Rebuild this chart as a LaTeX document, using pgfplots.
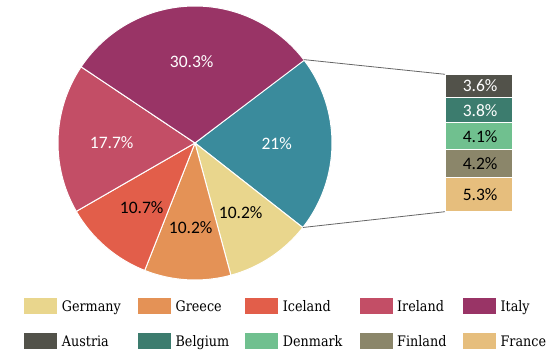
\documentclass[border=0pt]{standalone}
\usepackage{pgfplots}
\usepackage{pgfplotstable}
\pgfplotsset{compat=1.18}
\usepackage{fontspec}
\setmainfont{Carlito}
\newfontfamily\legfont[FakeStretch=0.88]{DejaVu Serif}

\definecolor{cOther}{RGB}{58,139,156}
\definecolor{cGermany}{RGB}{233,214,141}
\definecolor{cGreece}{RGB}{228,146,86}
\definecolor{cIceland}{RGB}{226,94,74}
\definecolor{cIreland}{RGB}{195,78,102}
\definecolor{cItaly}{RGB}{153,52,102}
\definecolor{cAustria}{RGB}{82,82,74}
\definecolor{cBelgium}{RGB}{60,124,110}
\definecolor{cDenmark}{RGB}{112,192,143}
\definecolor{cFinland}{RGB}{139,134,106}
\definecolor{cFrance}{RGB}{230,190,125}

% pie: clockwise from 37.5 deg
\pgfplotstableread{
name value color
Other 21.0 cOther
Germany 10.2 cGermany
Greece 10.2 cGreece
Iceland 10.7 cIceland
Ireland 17.7 cIreland
Italy 30.3 cItaly
}\piedata

% build the sector commands from the table
\def\piecmds{}
\def\cum{0}
\pgfplotsforeachungrouped \i in {0,...,5}{%
  \pgfplotstablegetelem{\i}{value}\of\piedata \let\pv\pgfplotsretval
  \pgfplotstablegetelem{\i}{color}\of\piedata \let\pc\pgfplotsretval
  \pgfmathsetmacro\sa{37.5-3.6*\cum}%
  \pgfmathsetmacro\ea{\sa-3.6*\pv}%
  \xdef\piecmds{\unexpanded\expandafter{\piecmds}\noexpand\fill[\pc, draw=white, line width=1pt] (axis cs:195,216) -- ++(\sa:137pt) arc[start angle=\sa, end angle=\ea, radius=137pt] -- cycle;}%
  \pgfmathsetmacro\cum{\cum+\pv}%
}

\begin{document}
\begin{tikzpicture}
\begin{axis}[
  width=553pt, height=359pt, scale only axis,
  xmin=0, xmax=553, ymin=0, ymax=359,
  hide axis, clip=false,
  legend columns=5,
  legend image code/.code={\path[#1] (0pt,-8pt) rectangle (33pt,8pt);},
  legend style={at={(0.0434,0.1708)}, anchor=north west, draw=none, fill=none,
    inner sep=0pt, column sep=0pt, row sep=17.8pt,
    nodes={inner sep=0pt, anchor=west, text height=14pt, text depth=3.2pt,
      font=\legfont\fontsize{14.5}{16}\selectfont}},
]
\path (axis cs:0,0) rectangle (axis cs:553,359);
\piecmds
\addplot[black!60, line width=0.8pt, forget plot] coordinates {(303.7,299.4) (445,284.7)};
\addplot[black!60, line width=0.8pt, forget plot] coordinates {(302.8,131.5) (445,147.3)};

\node[white, font=\fontsize{17.5}{20}\selectfont] at (axis cs:191.7,297.3) {30.3\%};
\node[white, font=\fontsize{17.5}{20}\selectfont] at (axis cs:276.7,215) {21\%};
\node[white, font=\fontsize{17.5}{20}\selectfont] at (axis cs:111.7,216.3) {17.7\%};
\node[black, font=\fontsize{17.5}{20}\selectfont] at (axis cs:141.7,151) {10.7\%};
\node[black, font=\fontsize{17.5}{20}\selectfont] at (axis cs:190.7,131.3) {10.2\%};
\node[black, font=\fontsize{17.5}{20}\selectfont] at (axis cs:240.7,146.7) {10.2\%};

\addlegendimage{fill=cGermany, draw=none}
\addlegendentry{\makebox[80.7pt][l]{\hspace{4.7pt}Germany}}
\addlegendimage{fill=cGreece, draw=none}
\addlegendentry{\makebox[74.3pt][l]{\hspace{4.7pt}Greece}}
\addlegendimage{fill=cIceland, draw=none}
\addlegendentry{\makebox[81.3pt][l]{\hspace{4.7pt}Iceland}}
\addlegendimage{fill=cIreland, draw=none}
\addlegendentry{\makebox[70.4pt][l]{\hspace{4.7pt}Ireland}}
\addlegendimage{fill=cItaly, draw=none}
\addlegendentry{\makebox[50pt][l]{\hspace{4.7pt}Italy}}
\addlegendimage{fill=cAustria, draw=none}
\addlegendentry{\makebox[80.7pt][l]{\hspace{4.7pt}Austria}}
\addlegendimage{fill=cBelgium, draw=none}
\addlegendentry{\makebox[74.3pt][l]{\hspace{4.7pt}Belgium}}
\addlegendimage{fill=cDenmark, draw=none}
\addlegendentry{\makebox[81.3pt][l]{\hspace{4.7pt}Denmark}}
\addlegendimage{fill=cFinland, draw=none}
\addlegendentry{\makebox[70.4pt][l]{\hspace{4.7pt}Finland}}
\addlegendimage{fill=cFrance, draw=none}
\addlegendentry{\makebox[50pt][l]{\hspace{4.7pt}France}}
\end{axis}

\begin{axis}[
  at={(445pt,147.3pt)}, anchor=south west,
  width=67.3pt, height=137.4pt, scale only axis,
  ybar stacked, bar width=67.3pt,
  xmin=-0.5, xmax=0.5, ymin=0, ymax=21,
  hide axis, clip=false,
]
\addplot[fill=cFrance, draw=white, line width=1pt] coordinates {(0,5.3)};
\addplot[fill=cFinland, draw=white, line width=1pt] coordinates {(0,4.2)};
\addplot[fill=cDenmark, draw=white, line width=1pt] coordinates {(0,4.1)};
\addplot[fill=cBelgium, draw=white, line width=1pt] coordinates {(0,3.8)};
\addplot[fill=cAustria, draw=white, line width=1pt] coordinates {(0,3.6)};
\end{axis}

\begin{axis}[
  at={(445pt,147.3pt)}, anchor=south west,
  width=67.3pt, height=137.4pt, scale only axis,
  xmin=-0.5, xmax=0.5, ymin=0, ymax=21,
  hide axis, clip=false,
]
\addplot[draw=none, forget plot] coordinates {(0,0) (0,21)};
\node[anchor=east, black, font=\fontsize{17.5}{20}\selectfont] at (axis cs:0.332,2.65) {5.3\%};
\node[anchor=east, black, font=\fontsize{17.5}{20}\selectfont] at (axis cs:0.332,7.4) {4.2\%};
\node[anchor=east, black, font=\fontsize{17.5}{20}\selectfont] at (axis cs:0.332,11.55) {4.1\%};
\node[anchor=east, white, font=\fontsize{17.5}{20}\selectfont] at (axis cs:0.332,15.5) {3.8\%};
\node[anchor=east, white, font=\fontsize{17.5}{20}\selectfont] at (axis cs:0.332,19.2) {3.6\%};
\end{axis}
\end{tikzpicture}
\end{document}
